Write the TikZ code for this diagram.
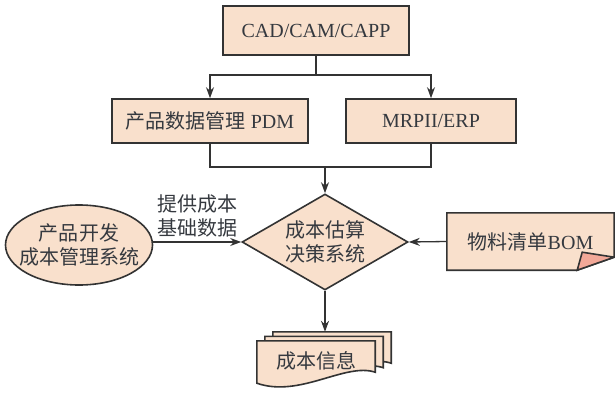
\documentclass[tikz,border=0pt]{standalone}
\usepackage{fontspec}
\setmainfont{Liberation Serif}
\newfontfamily\cjk{Noto Sans CJK SC}
\usetikzlibrary{arrows.meta,shapes.geometric,backgrounds,calc}
\definecolor{peach}{HTML}{F9E0CC}
\definecolor{fold}{HTML}{F2A898}
\definecolor{ink}{HTML}{333333}
\definecolor{txt}{HTML}{35393F}
\newcommand\cjktext{\cjk\fontsize{20}{24}\selectfont}
\tikzset{
  docline/.style={draw=ink, line width=1.6pt, fill=peach},
  box/.style={docline, text=txt, inner sep=0pt},
  zh/.style={font=\cjktext},
  link/.style={draw=ink, line width=1.3pt},
  arr/.style={link, -{Stealth[length=11pt,width=8pt]}},
}
\begin{document}
\begin{tikzpicture}[x=1pt,y=-1pt,font=\fontsize{20}{24}\selectfont]
  \useasboundingbox (0,0) rectangle (615,393);
  \node[box, minimum width=186pt, minimum height=49pt] (cad) at (316,30.5) {CAD/CAM/CAPP};
  \node[box, minimum width=196pt, minimum height=44pt] (pdm) at (210,121) {{\cjk 产品数据管理} PDM};
  \node[box, minimum width=170pt, minimum height=44pt] (mrp) at (431,121) {MRPII/ERP};
  \node[box, zh, shape=diamond, aspect=1.73, minimum width=166pt, minimum height=96pt, align=center] (dia) at (325,242) {成本估算\\决策系统};
  \node[box, zh, ellipse, align=center, minimum width=147pt, minimum height=80pt, inner xsep=-14pt] (dev) at (79,245) {产品开发\\成本管理系统};
  \node[text=txt, inner sep=0pt, minimum width=167pt, minimum height=57pt] (bom) at (530.5,241.5) {{\cjk 物料清单}BOM};
  \node[zh, text=txt, inner sep=0pt, minimum width=118pt, minimum height=40pt] (info) at (316,361) {成本信息};
  \coordinate (split) at (316,75);
  \coordinate (join) at (325,167);
  \coordinate (infotop) at ($(info.north west)+(16,-9)$);
  \begin{scope}[link]
    \draw (cad) -- (split);
    \draw (pdm) |- (join);
    \draw (mrp) |- (join);
  \end{scope}
  \begin{scope}[arr]
    \draw (split) -| (pdm);
    \draw (split) -| (mrp);
    \draw (join) -- (dia);
    \draw (dev.east |- dia.west) -- node[above=4pt, zh, text=txt, align=center, inner sep=0pt] (lab) {提供成本\\基础数据} (dia.west);
    \draw (bom.west) -- (dia.east);
    \draw (dia.south) -- (dia.south |- infotop);
  \end{scope}
  \begin{scope}[on background layer]
    \fill[white] (0,0) rectangle (615,393);
    \path[docline] (bom.north west) -- (bom.north east) -- ($(bom.south east)+(0,-13)$)
      -- ($(bom.south east)+(-37,0)$) -- (bom.south west) -- cycle;
    \path[docline, fill=fold] ($(bom.south east)+(0,-13)$) -- ($(bom.south east)+(-32,-18)$)
      -- ($(bom.south east)+(-37,0)$) -- cycle;
    \foreach \dx/\dy in {16/-9, 8/-4.5, 0/0}
      \path[docline] ($(info.north west)+(\dx,\dy)$) -- ($(info.north east)+(\dx,\dy)$)
        -- ($(info.south east)+(\dx,\dy-9)$)
        .. controls ($(info.south east)+(\dx-30,\dy-19)$) and ($(info.south west)+(\dx+43,\dy+17)$)
        .. ($(info.south west)+(\dx,\dy+2)$) -- cycle;
  \end{scope}
\end{tikzpicture}
\end{document}
